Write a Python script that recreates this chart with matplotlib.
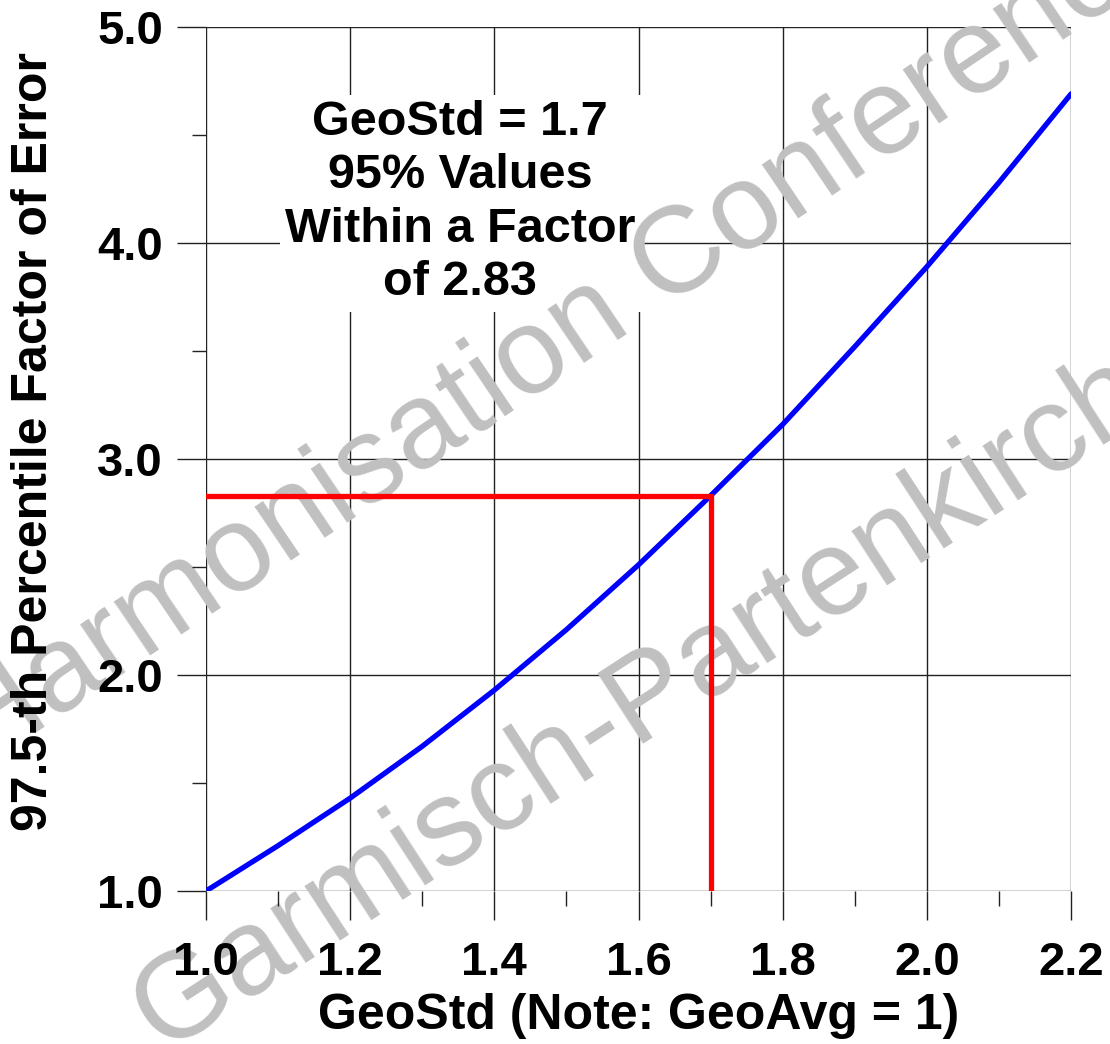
import matplotlib
matplotlib.use("Agg")
import matplotlib.pyplot as plt
from matplotlib.patches import Rectangle
from matplotlib.ticker import MultipleLocator, FormatStrFormatter

# ---- data ----
geostd = [1.0, 1.1, 1.2, 1.3, 1.4, 1.5, 1.6, 1.7, 1.8, 1.9, 2.0, 2.1, 2.2]
factor = [1.00, 1.21, 1.43, 1.67, 1.93, 2.21, 2.51, 2.83, 3.16, 3.52, 3.89, 4.28, 4.69]
marker_x = [1.0, 1.7, 1.7]
marker_y = [2.83, 2.83, 1.0]
xticks = [1.0, 1.2, 1.4, 1.6, 1.8, 2.0, 2.2]
yticks = [1.0, 2.0, 3.0, 4.0, 5.0]
annotation = "GeoStd = 1.7\n95% Values\nWithin a Factor\nof 2.83"
xlabel = "GeoStd (Note: GeoAvg = 1)"
ylabel = "97.5-th Percentile Factor of Error"
watermark1 = "Harmonisation Conference"
watermark2 = "Garmisch-Partenkirchen"

FONT = "Liberation Sans"
W, H = 1110, 1044
fig = plt.figure(figsize=(W / 100, H / 100), dpi=100, facecolor="white")
ax = fig.add_axes([206 / W, 1 - 891 / H, (1071 - 206) / W, (891 - 27) / H])
ax.set_facecolor("none")
ax.set_xlim(1.0, 2.2)
ax.set_ylim(1.0, 5.0)

for s in ax.spines.values():
    s.set_visible(False)

gcol = "#222222"
for x in xticks:
    ax.axvline(x, color=gcol, lw=1.0, zorder=0.5)
for y in yticks:
    ax.axhline(y, color=gcol, lw=1.0, zorder=0.5)

ax.xaxis.set_major_locator(MultipleLocator(0.2))
ax.xaxis.set_minor_locator(MultipleLocator(0.1))
ax.yaxis.set_major_locator(MultipleLocator(1.0))
ax.yaxis.set_minor_locator(MultipleLocator(0.5))
ax.xaxis.set_major_formatter(FormatStrFormatter("%.1f"))
ax.yaxis.set_major_formatter(FormatStrFormatter("%.1f"))
ax.tick_params(axis="x", which="major", direction="out", length=21, width=1,
               color=gcol, pad=15, labelsize=34)
ax.tick_params(axis="x", which="minor", direction="out", length=11, width=1, color=gcol)
ax.tick_params(axis="y", which="major", direction="out", length=21, width=1,
               color=gcol, pad=10, labelsize=34)
ax.tick_params(axis="y", which="minor", direction="out", length=10, width=1, color=gcol)
for lab in ax.get_xticklabels() + ax.get_yticklabels():
    lab.set_fontfamily(FONT)
    lab.set_fontweight("bold")

ax.set_xlabel(xlabel, fontsize=36, fontweight="bold", family=FONT, labelpad=6)
ax.set_ylabel(ylabel, fontsize=36, fontweight="bold", family=FONT)
ax.yaxis.set_label_coords(-0.172, 0.52)
ax.set_axisbelow(False)

# white box behind annotation
ax.add_patch(Rectangle((0.0855, 0.670), 0.4174, 0.251, transform=ax.transAxes,
                       facecolor="white", edgecolor="none", zorder=1))

# watermark
ax.text(-20 / W, 1 - 770 / H, watermark1, transform=fig.transFigure, rotation=34,
        rotation_mode="anchor", ha="left", va="baseline", fontsize=88,
        family=FONT, color="#c0c0c0", clip_on=False, zorder=1.5)
ax.text(162 / W, 1 - 1052 / H, watermark2, transform=fig.transFigure, rotation=33,
        rotation_mode="anchor", ha="left", va="baseline", fontsize=88,
        family=FONT, color="#c0c0c0", clip_on=False, zorder=1.5)

ax.plot(geostd, factor, color="#0000ff", lw=3.8, zorder=2, solid_capstyle="round")
ax.plot(marker_x, marker_y, color="#ff0000", lw=3.8, zorder=2.2, solid_joinstyle="miter")

ax.text(0.2936, 0.797, annotation, transform=ax.transAxes, ha="center", va="center",
        multialignment="center", fontsize=35, fontweight="bold", family=FONT,
        linespacing=1.24, zorder=3)

fig.savefig("out.png", dpi=100, facecolor="white")
